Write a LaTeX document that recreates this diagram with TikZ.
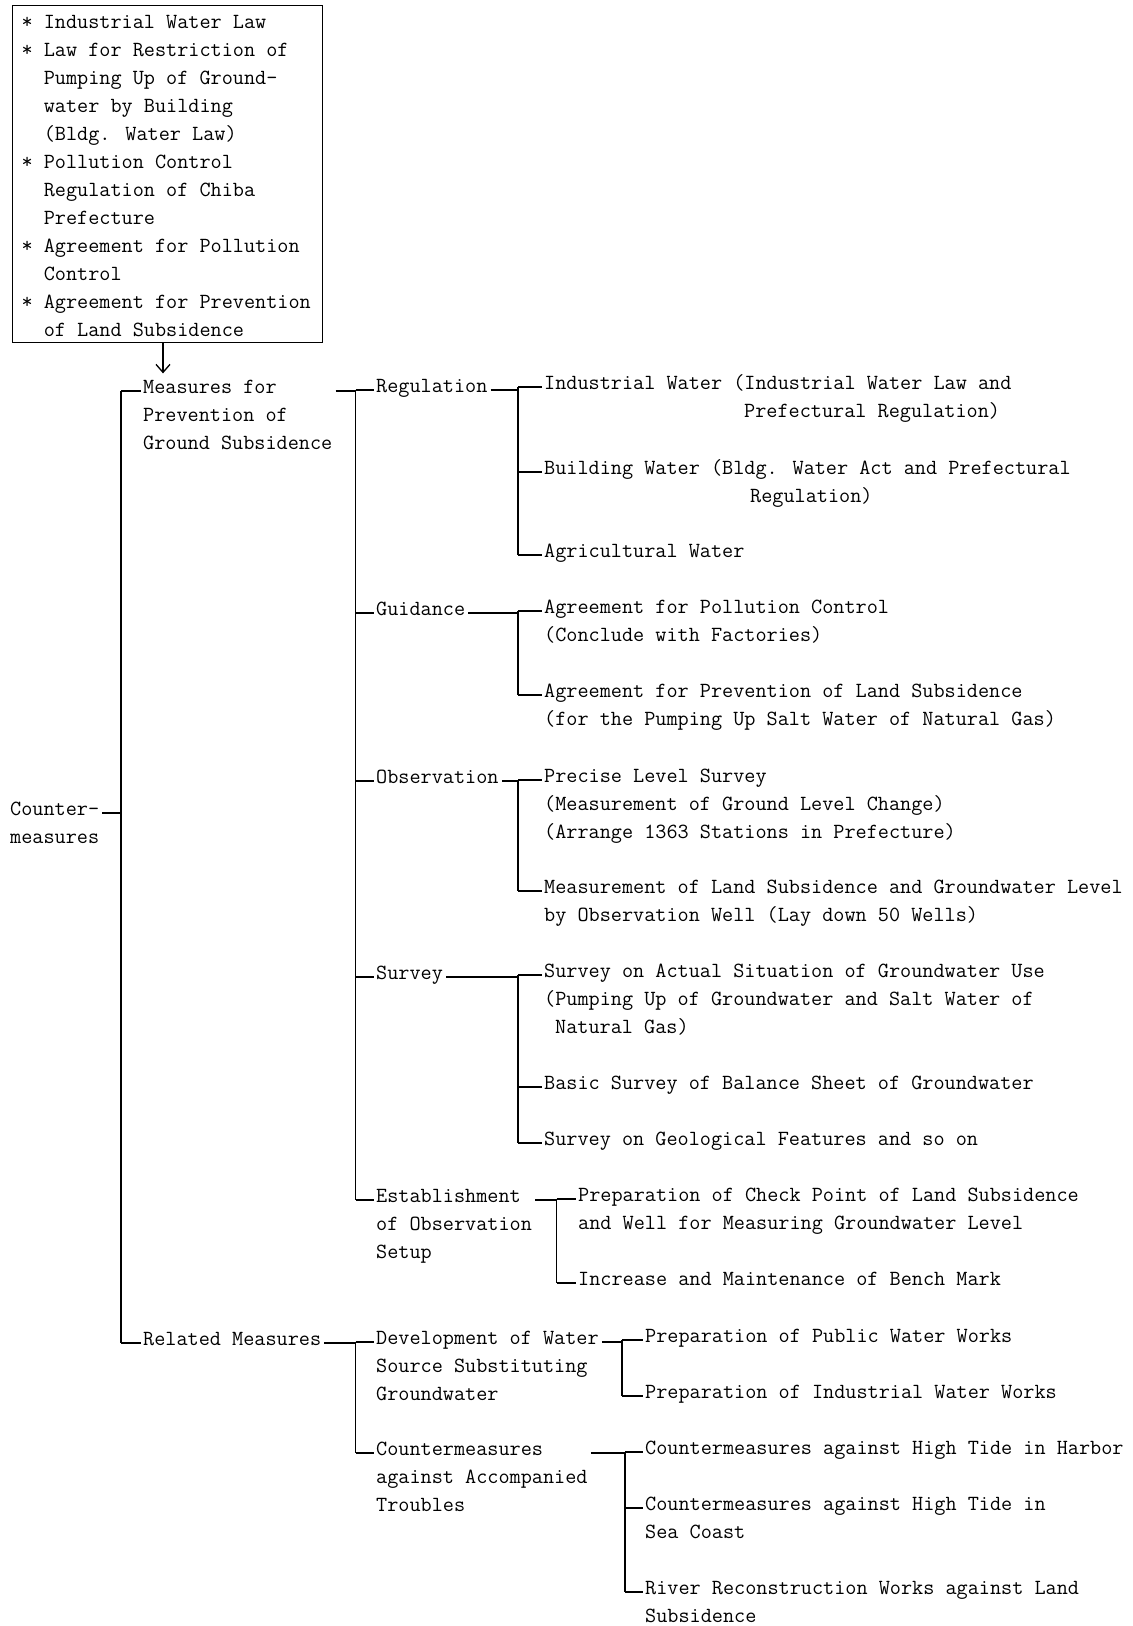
\documentclass[tikz,border=0pt]{standalone}
\usetikzlibrary{arrows.meta}
\tikzstyle{typed}=[font=\ttfamily\fontsize{21.6}{28}\selectfont]
\tikzstyle{entry}=[typed,inner sep=0pt,anchor=mid west,yshift=-5pt]
\tikzstyle{lawbox}=[typed,draw,line width=1.3pt,anchor=north west,inner sep=0pt,
  minimum width=310pt,minimum height=337pt]
\tikzstyle{branch}=[line width=1.3pt]
% first line of a stack of lines is its baseline
\newcommand{\stack}[1]{\begin{tabular}[t]{@{}l@{}}#1\end{tabular}}

\begin{document}
\begin{tikzpicture}[x=1pt,y=-1pt]
  \useasboundingbox (0,0) rectangle (1133,1626);
  \def\ind{\hspace*{22.2pt}}
  \def\bul{\makebox[22.2pt][l]{*}}

  \node[lawbox] (laws) at (12,5) {\raisebox{-3pt}[\height][\depth]{\makebox[292pt][l]{\stack{%
    \bul Industrial Water Law\\
    \bul Law for Restriction of\\ \ind Pumping Up of Ground-\\ \ind water by Building\\
    \ind (Bldg. Water Law)\\
    \bul Pollution Control\\ \ind Regulation of Chiba\\ \ind Prefecture\\
    \bul Agreement for Pollution\\ \ind Control\\
    \bul Agreement for Prevention\\ \ind of Land Subsidence}}}};

  \node[entry] (counter) at (10,808) {\stack{Counter-\\measures}};

  \node[entry] (measures) at (143,386) {\stack{Measures for\\Prevention of\\Ground Subsidence}};
  \node[entry] (related) at (143,1338) {Related Measures};

  \node[entry] (regulation) at (376,385) {Regulation};
  \node[entry] (guidance) at (376,608) {Guidance};
  \node[entry] (observation) at (376,776) {Observation};
  \node[entry] (survey) at (376,972) {Survey};
  \node[entry] (establish) at (376,1195) {\stack{Establishment\\of Observation\\Setup}};
  \node[entry] (develop) at (376,1337) {\stack{Development of Water\\Source Substituting\\Groundwater}};
  \node[entry] (troubles) at (376,1448) {\stack{Countermeasures\\against Accompanied\\Troubles}};

  \node[entry] (indwater) at (544,382) {\stack{Industrial Water (Industrial Water Law and\\
    \hspace*{200pt}Prefectural Regulation)}};
  \node[entry] (bldwater) at (544,467) {\stack{Building Water (Bldg. Water Act and Prefectural\\
    \hspace*{206pt}Regulation)}};
  \node[entry] (agrwater) at (544,550) {Agricultural Water};
  \node[entry] (agrpoll) at (544,606) {\stack{Agreement for Pollution Control\\(Conclude with Factories)}};
  \node[entry] (agrsub) at (544,690) {\stack{Agreement for Prevention of Land Subsidence\\
    (for the Pumping Up Salt Water of Natural Gas)}};
  \node[entry] (levelsurvey) at (544,775) {\stack{Precise Level Survey\\
    (Measurement of Ground Level Change)\\(Arrange 1363 Stations in Prefecture)}};
  \node[entry] (obswell) at (544,886) {\stack{Measurement of Land Subsidence and Groundwater Level\\
    by Observation Well (Lay down 50 Wells)}};
  \node[entry] (usesurvey) at (544,970) {\stack{Survey on Actual Situation of Groundwater Use\\
    (Pumping Up of Groundwater and Salt Water of\\\hspace*{11pt}Natural Gas)}};
  \node[entry] (balance) at (544,1082) {Basic Survey of Balance Sheet of Groundwater};
  \node[entry] (geology) at (544,1138) {Survey on Geological Features and so on};

  \node[entry] (checkpoint) at (578,1194) {\stack{Preparation of Check Point of Land Subsidence\\
    and Well for Measuring Groundwater Level}};
  \node[entry] (benchmark) at (578,1278) {Increase and Maintenance of Bench Mark};

  \node[entry] (publicworks) at (645,1335) {Preparation of Public Water Works};
  \node[entry] (indworks) at (645,1391) {Preparation of Industrial Water Works};
  \node[entry] (harbor) at (645,1447) {Countermeasures against High Tide in Harbor};
  \node[entry] (seacoast) at (645,1503) {\stack{Countermeasures against High Tide in\\Sea Coast}};
  \node[entry] (river) at (645,1587) {\stack{River Reconstruction Works against Land\\Subsidence}};

  % laws feed the measures
  \draw[branch,-{Straight Barb[length=8pt,width=14pt]}] (laws.south -| 163,0)
    -- (163,0 |- measures.north);

  % parent -> bar
  \foreach \p/\b/\f/\l in {counter/121/measures/related, measures/355.6/regulation/establish,
      related/355.6/develop/troubles, regulation/518/indwater/agrwater,
      guidance/518/agrpoll/agrsub, observation/518/levelsurvey/obswell,
      survey/518/usesurvey/geology, establish/556.7/checkpoint/benchmark,
      develop/622/publicworks/indworks, troubles/625/harbor/river} {
    \draw[branch] ([xshift=3pt]\p.mid east) -- (\b,0 |- \p.mid east);
    \draw[branch] (\b,0 |- \f.mid west) -- (\b,0 |- \l.mid west);
  }
  % bar -> child
  \foreach \b/\c in {121/measures, 121/related, 355.6/regulation, 355.6/guidance,
      355.6/observation, 355.6/survey, 355.6/establish, 355.6/develop, 355.6/troubles,
      518/indwater, 518/bldwater, 518/agrwater, 518/agrpoll, 518/agrsub,
      518/levelsurvey, 518/obswell, 518/usesurvey, 518/balance, 518/geology,
      556.7/checkpoint, 556.7/benchmark, 622/publicworks, 622/indworks,
      625/harbor, 625/seacoast, 625/river} {
    \draw[branch] (\b,0 |- \c.mid west) -- ([xshift=-2pt]\c.mid west);
  }
\end{tikzpicture}
\end{document}
